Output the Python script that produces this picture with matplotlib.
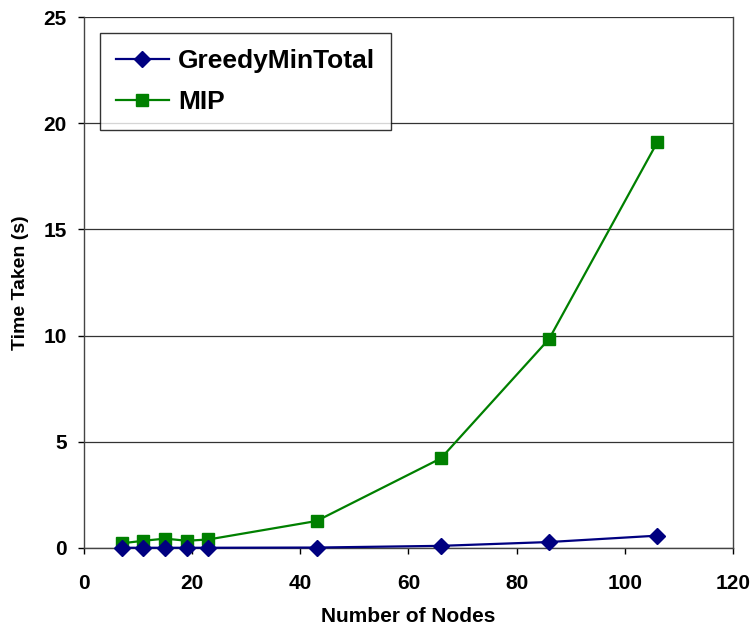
import matplotlib
matplotlib.use("Agg")
import matplotlib.pyplot as plt

# values
nodes = [7, 11, 15, 19, 23, 43, 66, 86, 106]
greedy = [0.01, 0.01, 0.01, 0.01, 0.01, 0.02, 0.10, 0.28, 0.58]
mip = [0.22, 0.34, 0.44, 0.34, 0.40, 1.27, 4.22, 9.84, 19.1]

x_ticks = [0, 20, 40, 60, 80, 100, 120]
y_ticks = [0, 5, 10, 15, 20, 25]

plt.rcParams['font.family'] = ['Liberation Sans', 'DejaVu Sans']
plt.rcParams['font.weight'] = 'bold'

fig = plt.figure(figsize=(7.54, 6.3), dpi=100)
ax = fig.add_axes([0.1114, 0.1302, 0.8607, 0.8428])

ax.plot(nodes, greedy, color="#000080", lw=1.6, marker="D", markersize=8.5,
        label="GreedyMinTotal", clip_on=False, zorder=4)
ax.plot(nodes, mip, color="#008000", lw=1.6, marker="s", markersize=8.5,
        label="MIP", clip_on=False, zorder=3)

ax.set_xlim(0, 120)
ax.set_ylim(0, 25)
ax.set_xticks(x_ticks)
ax.set_yticks(y_ticks)
ax.yaxis.grid(True, color="#333333", lw=0.9)
ax.set_axisbelow(True)
ax.tick_params(direction="out", length=4.5, width=1, labelsize=15, colors="black")
ax.tick_params(axis="x", pad=14)
ax.tick_params(axis="y", pad=8)
for lbl in ax.get_xticklabels() + ax.get_yticklabels():
    lbl.set_fontweight("bold")
for side in ["left", "bottom", "right"]:
    ax.spines[side].set_color("#444444")
    ax.spines[side].set_linewidth(1)
ax.spines["top"].set_visible(False)

ax.set_xlabel("Number of Nodes", fontsize=15, fontweight="bold", labelpad=10)
ax.set_ylabel("Time Taken (s)", fontsize=14, fontweight="bold", labelpad=10)

leg = ax.legend(loc="upper left", bbox_to_anchor=(0.025, 0.97), fontsize=19,
                frameon=True, fancybox=False, borderpad=0.6, handlelength=2.0,
                handletextpad=0.35, labelspacing=0.65, borderaxespad=0)
leg.get_frame().set_edgecolor("black")
leg.get_frame().set_linewidth(1)
for t in leg.get_texts():
    t.set_fontweight("bold")

plt.savefig("out.png", dpi=100)
